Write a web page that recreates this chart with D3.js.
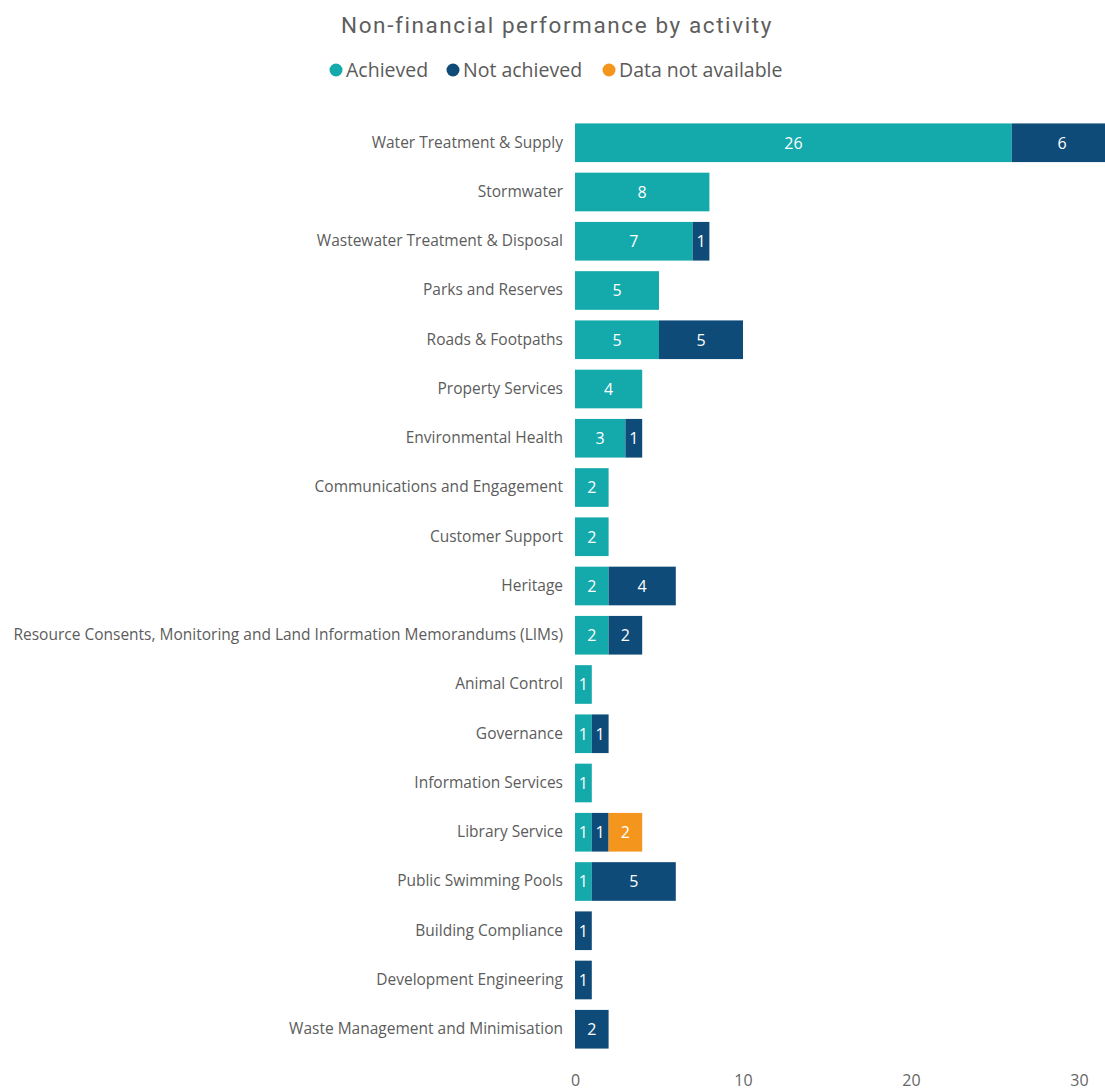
<!DOCTYPE html>
<html>
<head>
<meta charset="utf-8">
<script src="https://cdn.jsdelivr.net/npm/d3@7"></script>
<style>
  html, body { margin: 0; padding: 0; background: #fff; }
  svg { display: block; }
</style>
</head>
<body>
<svg id="chart" width="1105" height="1090"></svg>
<script>
// Activities, top to bottom
const activities = [
  "Water Treatment & Supply",
  "Stormwater",
  "Wastewater Treatment & Disposal",
  "Parks and Reserves",
  "Roads & Footpaths",
  "Property Services",
  "Environmental Health",
  "Communications and Engagement",
  "Customer Support",
  "Heritage",
  "Resource Consents, Monitoring and Land Information Memorandums (LIMs)",
  "Animal Control",
  "Governance",
  "Information Services",
  "Library Service",
  "Public Swimming Pools",
  "Building Compliance",
  "Development Engineering",
  "Waste Management and Minimisation"
];

// Measure counts per activity
const achieved      = [26, 8, 7, 5, 5, 4, 3, 2, 2, 2, 2, 1, 1, 1, 1, 1, 0, 0, 0];
const notAchieved   = [6, 0, 1, 0, 5, 0, 1, 0, 0, 4, 2, 0, 1, 0, 1, 5, 1, 1, 2];
const notAvailable  = [0, 0, 0, 0, 0, 0, 0, 0, 0, 0, 0, 0, 0, 0, 2, 0, 0, 0, 0];

const seriesNames = ["Achieved", "Not achieved", "Data not available"];
const seriesColors = ["#14A9AB", "#0F4B78", "#F4961E"];
const xTicks = [0, 10, 20, 30];

const rows = activities.map((a, i) => ({
  activity: a,
  "Achieved": achieved[i],
  "Not achieved": notAchieved[i],
  "Data not available": notAvailable[i]
}));

const svg = d3.select("#chart");

const x = d3.scaleLinear().domain([0, 30]).range([575, 1079]);
const y = d3.scaleBand().domain(activities).range([118.5, 1053.5]).paddingInner(0.215).paddingOuter(0.1);
const color = d3.scaleOrdinal().domain(seriesNames).range(seriesColors);

// Title
svg.append("text")
  .attr("x", 557).attr("y", 33)
  .attr("text-anchor", "middle")
  .attr("font-family", "Roboto, 'DejaVu Sans', sans-serif")
  .attr("font-size", 22.5)
  .attr("letter-spacing", 1.6)
  .attr("fill", "#5e5e5e")
  .text("Non-financial performance by activity");

// Legend
const legendX = [336, 453, 609];
const legend = svg.append("g");
seriesNames.forEach((s, i) => {
  const g = legend.append("g").attr("transform", `translate(${legendX[i]},70)`);
  g.append("circle").attr("r", 6.5).attr("fill", color(s));
  g.append("text")
    .attr("x", 10).attr("y", 0)
    .attr("dy", "0.36em")
    .attr("font-family", "'Open Sans', sans-serif")
    .attr("font-size", 19.5)
    .attr("fill", "#5a5a5a")
    .text(s);
});

// Stacked segments
const stack = d3.stack().keys(seriesNames);
const layers = stack(rows);

const plot = svg.append("g");
layers.forEach(layer => {
  const key = layer.key;
  layer.forEach(seg => {
    const v = seg[1] - seg[0];
    if (v <= 0) return;
    const act = seg.data.activity;
    const x0 = x(seg[0]), x1 = x(seg[1]);
    plot.append("rect")
      .attr("x", x0).attr("y", y(act))
      .attr("width", x1 - x0).attr("height", y.bandwidth())
      .attr("fill", color(key));
    plot.append("text")
      .attr("x", (x0 + x1) / 2)
      .attr("y", y(act) + y.bandwidth() / 2)
      .attr("dy", "0.36em")
      .attr("text-anchor", "middle")
      .attr("font-family", "'Open Sans', sans-serif")
      .attr("font-size", 16)
      .attr("fill", "#fff")
      .text(v);
  });
});

// Category axis (labels only)
const yAxis = d3.axisLeft(y).tickSize(0).tickPadding(12);
const gy = svg.append("g").attr("transform", "translate(575,0)").call(yAxis);
gy.select(".domain").remove();
gy.selectAll("text")
  .attr("font-family", "'Open Sans', sans-serif")
  .attr("font-size", 15.5)
  .attr("fill", "#5c5c5c");

// Value axis (labels only)
const xAxis = d3.axisBottom(x).tickValues(xTicks).tickSize(0).tickPadding(0);
const gx = svg.append("g").attr("transform", "translate(0,1075)").call(xAxis);
gx.select(".domain").remove();
gx.selectAll("text")
  .attr("font-family", "'Open Sans', sans-serif")
  .attr("font-size", 16)
  .attr("fill", "#666");
</script>
</body>
</html>
